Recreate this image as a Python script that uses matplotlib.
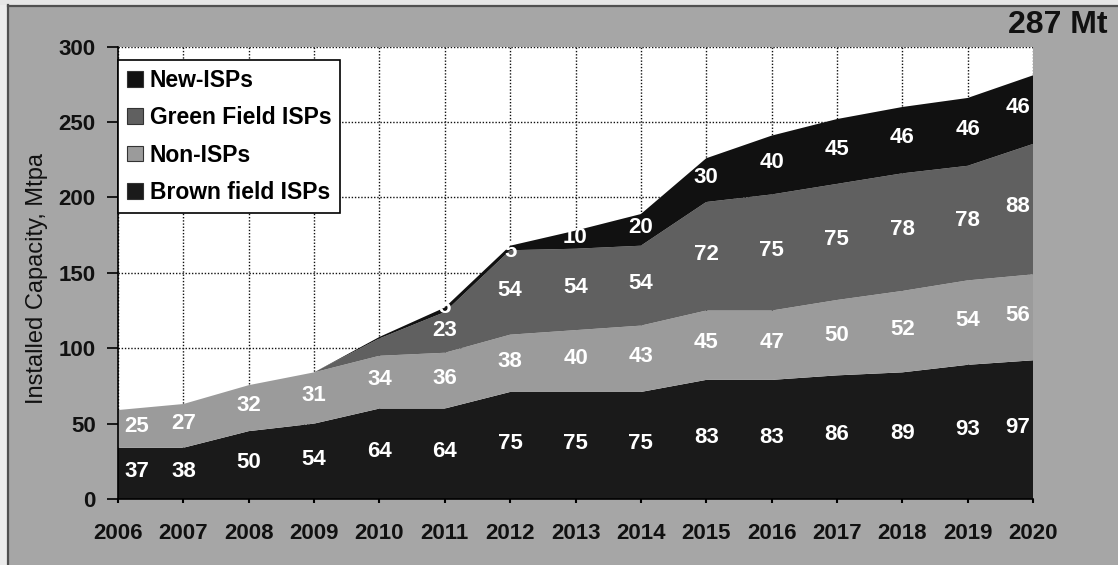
import numpy as np
import matplotlib
matplotlib.use("Agg")
import matplotlib.pyplot as plt
from matplotlib.patches import Patch, Rectangle
from matplotlib.lines import Line2D

plt.rcParams['font.family'] = ['Liberation Sans', 'DejaVu Sans']

years = [2006, 2007, 2008, 2009, 2010, 2011, 2012, 2013, 2014, 2015, 2016, 2017, 2018, 2019, 2020]

# band heights as drawn in the picture (Mtpa)
brown_field = [34, 34, 45, 50, 60, 60, 71, 71, 71, 79, 79, 82, 84, 89, 92]
non_isp = [25, 29, 30.5, 34, 35, 37, 38, 41, 44, 46, 46, 50, 54, 56, 57]
green_field = [0, 0, 0, 0, 11.5, 27, 56, 54, 53, 72, 77, 77, 78, 76, 86.5]
new_isp = [0, 0, 0, 0, 1, 3, 3, 12, 21, 29, 39, 43, 44, 45, 45.5]

# numbers printed on the bands
brown_lbl = [37, 38, 50, 54, 64, 64, 75, 75, 75, 83, 83, 86, 89, 93, 97]
non_lbl = [25, 27, 32, 31, 34, 36, 38, 40, 43, 45, 47, 50, 52, 54, 56]
green_lbl = [None, None, None, None, None, 23, 54, 54, 54, 72, 75, 75, 78, 78, 88]
new_lbl = [None, None, None, None, None, 5, 5, 10, 20, 30, 40, 45, 46, 46, 46]

series_names = ["Brown field ISPs", "Non-ISPs", "Green Field ISPs", "New-ISPs"]
colors = ["#1a1a1a", "#9b9b9b", "#606060", "#111111"]
bg = "#a6a6a6"

W, H = 1118, 565
fig = plt.figure(figsize=(W / 100, H / 100), dpi=100, facecolor=bg)

# outer frame of the slide
fig.patches.append(Rectangle((0, 0), 7 / W, 1, transform=fig.transFigure, facecolor="#ececec", edgecolor="none", zorder=0))
fig.patches.append(Rectangle((0, 1 - 5 / H), 1, 5 / H, transform=fig.transFigure, facecolor="#e6e6e6", edgecolor="none", zorder=0))
fig.add_artist(Line2D([7.5 / W, 7.5 / W], [0, 1 - 5 / H], transform=fig.transFigure, color="#505050", lw=1.6))
fig.add_artist(Line2D([7.5 / W, 1], [1 - 5.5 / H, 1 - 5.5 / H], transform=fig.transFigure, color="#505050", lw=1.6))

ax = fig.add_axes([118 / W, 1 - 499 / H, (1033 - 118) / W, (499 - 46.7) / H])
ax.set_facecolor("white")

data = np.array([brown_field, non_isp, green_field, new_isp], dtype=float)
ax.stackplot(years, data, colors=colors, linewidth=0, zorder=2)

ax.set_xlim(years[0], years[-1])
ax.set_ylim(0, 300)
ax.set_xticks(years)
ax.set_yticks(np.arange(0, 301, 50))
ax.set_axisbelow(True)
ax.grid(True, color="#111111", linestyle=(0, (1, 1.3)), linewidth=1.0)

for s in ["top", "right"]:
    ax.spines[s].set_visible(False)
ax.spines["left"].set_linewidth(1.2)
ax.spines["bottom"].set_linewidth(1.2)

ax.tick_params(axis="y", direction="out", length=8, width=1.2, pad=8, labelsize=16)
ax.tick_params(axis="x", direction="out", length=3, width=1.5, pad=14, labelsize=16)
for lab in ax.get_xticklabels() + ax.get_yticklabels():
    lab.set_fontweight("bold")
    lab.set_color("#111111")

# value labels at the middle of each band
cum = np.vstack([np.zeros(len(years)), np.cumsum(data, axis=0)])
all_lbls = [brown_lbl, non_lbl, green_lbl, new_lbl]
for k, lbls in enumerate(all_lbls):
    for i, v in enumerate(lbls):
        if v is None:
            continue
        x = years[i]
        if i == 0:
            x += 0.29
        elif i == len(years) - 1:
            x -= 0.23
        y = (cum[k, i] + cum[k + 1, i]) / 2 + 1.5
        if k == 3 and i == 6:
            y -= 4
        ax.text(x, y, str(v), color="white", fontsize=16, fontweight="bold",
                ha="center", va="center", zorder=5)

handles = [Patch(facecolor=colors[i], edgecolor="#333333", linewidth=0.8, label=series_names[i]) for i in [3, 2, 1, 0]]
leg = ax.legend(handles=handles, loc="upper left", bbox_to_anchor=(0, 1 - (60 - 46.7) / (499 - 46.7)),
                borderaxespad=0, fancybox=False, edgecolor="black", framealpha=1,
                prop={"weight": "bold", "size": 16.5}, handlelength=0.68, handleheight=0.68,
                handletextpad=0.3, labelspacing=0.62, borderpad=0.4)
leg.get_frame().set_linewidth(1.2)
leg.set_zorder(6)

fig.text(37 / W, 1 - 278 / H, "Installed Capacity, Mtpa", rotation=90, ha="center", va="center",
         fontsize=17, color="#111111")
fig.text(1108 / W, 1 - 25 / H, "287 Mt", ha="right", va="center", fontsize=23, fontweight="bold", color="#111111")

fig.savefig("out.png", dpi=100, facecolor=bg)
